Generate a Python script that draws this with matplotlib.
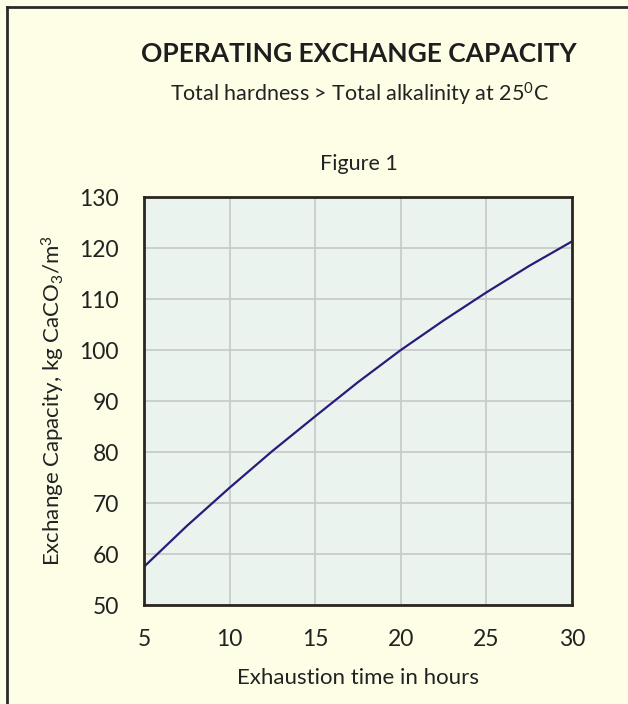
import matplotlib.pyplot as plt
from matplotlib.lines import Line2D

plt.rcParams['font.family'] = ['Lato', 'DejaVu Sans']
plt.rcParams['mathtext.fontset'] = 'custom'
plt.rcParams['mathtext.rm'] = 'Lato'
plt.rcParams['mathtext.it'] = 'Lato'

# data
hours = [5, 7.5, 10, 12.5, 15, 17.5, 20, 22.5, 25, 27.5, 30]
capacity = [57.5, 65.5, 73.0, 80.2, 87.0, 93.7, 100.0, 105.8, 111.3, 116.5, 121.3]
xticks = [5, 10, 15, 20, 25, 30]
yticks = [50, 60, 70, 80, 90, 100, 110, 120, 130]

bg = '#FEFEE6'
fig = plt.figure(figsize=(6.28, 7.04), dpi=100, facecolor=bg)
ax = fig.add_axes([0.2293, 0.1406, 0.6815, 0.5795], facecolor='#EBF3EE')

ax.plot(hours, capacity, color='#2B1A7A', lw=1.6)
ax.set_xlim(5, 30)
ax.set_ylim(50, 130)
ax.set_xticks(xticks)
ax.set_yticks(yticks)
ax.grid(True, color='#C8C8C8', lw=1.2)
ax.tick_params(length=0, labelsize=16.5, colors='#222222')
ax.tick_params(axis='y', pad=18)
ax.tick_params(axis='x', pad=17)
for s in ax.spines.values():
    s.set_color('#2A2620')
    s.set_linewidth(2)

ax.set_xlabel('Exhaustion time in hours', fontsize=16, color='#222222', labelpad=13)
ax.set_ylabel(r'Exchange Capacity, kg CaCO$_3$/m$^3$', fontsize=16, color='#222222', labelpad=9)

fig.text(0.572, 0.924, 'OPERATING EXCHANGE CAPACITY', ha='center', va='center',
         fontsize=19, fontweight='bold', color='#1E1E1E')
fig.text(0.572, 0.866, r'Total hardness > Total alkalinity at 25$^0$C', ha='center', va='center',
         fontsize=15.5, color='#222222')
fig.text(0.572, 0.767, 'Figure 1', ha='center', va='center', fontsize=15.5, color='#222222')

# frame lines on the left and top
fig.add_artist(Line2D([0.0112, 0.0112], [0, 0.9895], transform=fig.transFigure, color='#2A2A2A', lw=2))
fig.add_artist(Line2D([0.0112, 1], [0.9895, 0.9895], transform=fig.transFigure, color='#2A2A2A', lw=2))

fig.savefig('out.png', dpi=100, facecolor=bg)
